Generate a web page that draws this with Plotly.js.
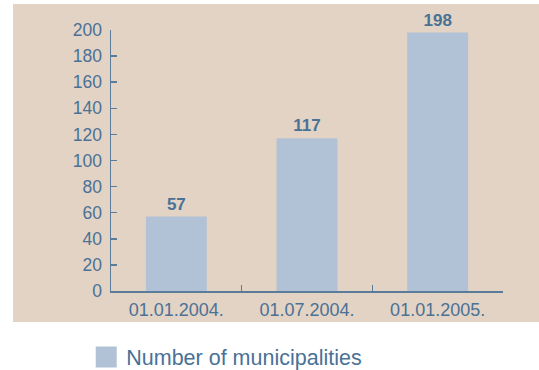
<!DOCTYPE html>
<html>
<head>
<meta charset="utf-8">
<script src="https://cdn.plot.ly/plotly-3.0.1.min.js"></script>
<style>html,body{margin:0;padding:0;background:#fff;}#chart{width:539px;height:370px;}</style>
</head>
<body>
<div id="chart"></div>
<script>
var categories = ["01.01.2004.", "01.07.2004.", "01.01.2005."];
var municipalities = [57, 117, 198];
var seriesName = "Number of municipalities";
var yTicks = [0, 20, 40, 60, 80, 100, 120, 140, 160, 180, 200];

var textColor = "#4a7196";
var lineColor = "#5a7b99";
var barColor = "#b2c2d6";
var bgColor = "#e2d3c4";
var fontFamily = "Liberation Sans, Arial, Helvetica, sans-serif";

var data = [
  {
    type: "bar",
    x: categories,
    y: municipalities,
    name: seriesName,
    showlegend: false,
    marker: {color: barColor},
    texttemplate: "%{y}",
    textposition: "outside",
    cliponaxis: false,
    textfont: {family: fontFamily, size: 17, color: textColor, weight: "bold"},
    hoverinfo: "x+y"
  },
  {
    type: "scatter",
    mode: "markers",
    x: [null],
    y: [null],
    name: seriesName,
    showlegend: true,
    marker: {symbol: "square", size: 16, color: barColor, line: {color: barColor, width: 5}},
    hoverinfo: "skip"
  }
];

var layout = {
  width: 539,
  height: 370,
  margin: {l: 111, r: 36, t: 30, b: 79, pad: 0},
  paper_bgcolor: "#ffffff",
  plot_bgcolor: "rgba(0,0,0,0)",
  font: {family: fontFamily, size: 17, color: textColor},
  bargap: 0.534,
  showlegend: true,
  legend: {
    xref: "container", yref: "container",
    x: 0.16, y: 0.035, xanchor: "left", yanchor: "middle",
    orientation: "h",
    itemsizing: "trace",
    font: {family: fontFamily, size: 21.5, color: textColor},
    bgcolor: "rgba(0,0,0,0)"
  },
  xaxis: {
    type: "category",
    showline: true, linecolor: lineColor, linewidth: 1.5,
    ticks: "inside", tickson: "boundaries", ticklen: 6, tickcolor: lineColor, tickwidth: 1.5,
    showgrid: false, zeroline: false,
    ticklabelstandoff: 2,
    tickfont: {family: fontFamily, size: 18, color: textColor},
    fixedrange: true
  },
  yaxis: {
    range: [0, 200],
    tickvals: yTicks,
    showline: true, linecolor: lineColor, linewidth: 1.5,
    ticks: "inside", ticklen: 6, tickcolor: lineColor, tickwidth: 1.5,
    showgrid: false, zeroline: false,
    ticklabelstandoff: 4,
    tickfont: {family: fontFamily, size: 17.5, color: textColor},
    fixedrange: true
  },
  shapes: [
    {
      type: "rect", xref: "paper", yref: "paper",
      x0: -0.25, x1: 1.2, y0: -0.1188, y1: 1.0996,
      fillcolor: bgColor, line: {width: 0}, layer: "below"
    }
  ]
};

Plotly.newPlot("chart", data, layout, {displayModeBar: false, staticPlot: true});
</script>
</body>
</html>
